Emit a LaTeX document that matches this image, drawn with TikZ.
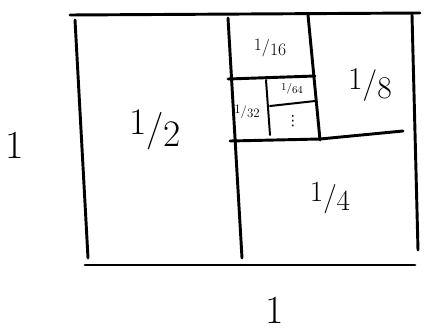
\documentclass[tikz,border=0pt]{standalone}
\usepackage{amsmath}
\usepackage{fontspec}
\usepackage{tikz}
\usetikzlibrary{positioning}

\newfontfamily\dotsfont{DejaVu Sans}
\newcommand{\slab}[2]{\raisebox{0.35ex}{#1}/\raisebox{-0.35ex}{#2}}

\begin{document}
\begin{tikzpicture}[
        x=0.03cm, y=-0.03cm,
        edge/.style={
            line width=2.5pt,
            line cap=round
        },
        thin edge/.style={
            line width=1.7pt,
            line cap=round
        },
        share/.style={
            inner sep=0pt
        }
    ]
    \useasboundingbox (0,0) rectangle (425,332);

    % outer square
    \draw[edge] (70,15) -- (420,13);
    \draw[edge] (75,20) -- (88,258);
    \draw[edge] (412,15) -- (418,250);
    \draw[edge] (85,265) -- (415,265);

    % halves and quarters
    \draw[edge] (228,18) -- (242,258);
    \draw[edge] (230,141) -- (320,139) -- (403,131);
    \draw[edge] (308,15) -- (320,140);
    \draw[edge] (228,79) -- (315,76);
    \draw[thin edge] (266,80) -- (270,135);
    \draw[thin edge] (270,106) -- (315,101);

    \node[share, font=\fontsize{32}{32}\selectfont] (half) at (155,130) {\slab{1}{2}};
    \node[share, font=\fontsize{25}{25}\selectfont] (quarter) at (330,198) {\slab{1}{4}};
    \node[share, font=\fontsize{27}{27}\selectfont] (eighth) at (370,85) {\slab{1}{8}};
    \node[share, font=\fontsize{15}{15}\selectfont] (sixteenth) at (270,48) {\slab{1}{16}};
    \node[share, font=\fontsize{11}{11}\selectfont] (thirtysecond) at (247,112) {\slab{1}{32}};
    \node[share, font=\fontsize{9}{9}\selectfont] (sixtyfourth) at (292,89) {\slab{1}{64}};
    \node[share, font=\dotsfont\fontsize{12}{12}\selectfont] (rest) at (293,121) {⋮};

    \node[share, font=\fontsize{34}{34}\selectfont] (side) at (15,145) {1};
    \node[share, font=\fontsize{34}{34}\selectfont] (base) at (275,310) {1};

    \end{tikzpicture}
\end{document}
